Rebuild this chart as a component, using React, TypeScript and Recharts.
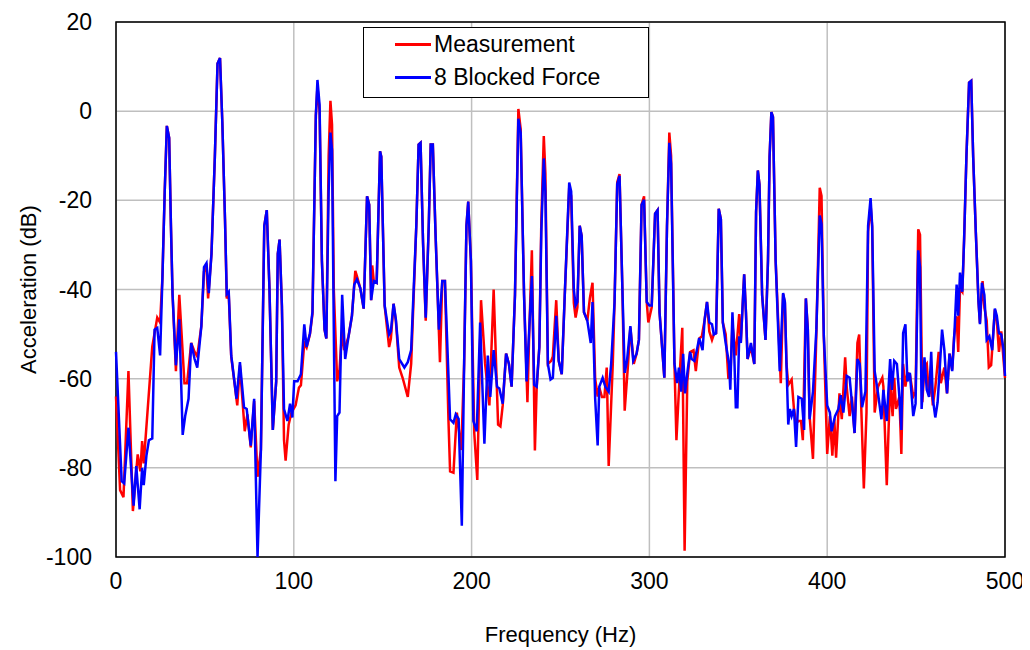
import React from 'react';
import {
  LineChart, Line, XAxis, YAxis, CartesianGrid, Legend, ReferenceArea,
} from 'recharts';

// [frequency Hz, acceleration dB]
const blockedForce: [number, number][] = [
  [0, -54], [3.2, -83], [4.6, -83.5], [7, -71], [9.9, -88.5], [11.4, -79.6], [13.3, -89.3], [14.7, -80],
  [15.6, -83.9], [17.1, -77.3], [18.5, -73.8], [20.4, -73.4], [21.7, -49], [23.2, -48.6], [24.8, -54.8],
  [26.1, -37.4], [27.4, -18], [28.6, -3.3], [29.9, -6], [30.9, -25.7], [31.8, -41], [33.7, -57], [35.6, -46.7],
  [37.5, -72.6], [38.9, -68.4], [40.8, -64.5], [42.3, -52], [44.2, -55.6], [45.7, -57.5], [48, -48.2],
  [49.5, -35], [50.9, -34.1], [52.2, -40.8], [53.7, -32], [55.6, -10.2], [57.1, 10.7], [58.5, 11.9],
  [59.8, -2.5], [61.3, -24.2], [62.3, -41], [63.4, -40.5], [64.8, -54.8], [67.8, -64.5], [69.7, -56.3],
  [72, -66.4], [73.5, -66.8], [75.8, -75], [77.7, -64.5], [79.6, -100], [81.5, -76], [83.4, -25.7],
  [84.8, -22.2], [86.3, -39.7], [88.2, -71.5], [90.1, -60.6], [91, -32], [92, -28.8], [93.3, -43.6],
  [94.5, -66.8], [96.4, -69.5], [97.9, -65.6], [99.2, -68.7], [100.2, -60.6], [102.1, -60.6], [104, -59],
  [105.9, -47.8], [107.2, -52.9], [109.1, -49.8], [110.5, -45], [111.6, -19.5], [112.4, -1], [113.3, 7],
  [114.5, 1.4], [115.8, -33.5], [117.3, -49], [118.3, -51], [119.6, -18], [120.6, -4.8], [121.5, -8.7],
  [122.5, -49], [123.4, -83], [124.4, -68.4], [125.7, -67.6], [127.2, -41.2], [128.9, -55.6], [130.8, -50.5],
  [132.7, -45.9], [134, -38.9], [135.5, -37.7], [137.4, -39.7], [139.3, -44.3], [141.2, -19.1], [142.4, -21],
  [143.5, -42.4], [145, -38.1], [146.6, -38.5], [148.5, -9], [149.2, -10.2], [151.1, -43.6], [153.6, -50.1],
  [154.6, -49.4], [156.1, -43.2], [157.4, -46.7], [159.3, -55.6], [162.2, -57.5], [164.1, -56.3], [166, -53.6],
  [168.9, -25.7], [170.2, -7.5], [171.3, -7.1], [172.7, -29.6], [174.2, -46.3], [175.9, -25.7], [177, -7.5],
  [178.2, -7.5], [179.7, -27.3], [181.6, -49], [183.5, -38.1], [185, -38.1], [186.6, -55.2], [187.9, -69.1],
  [189.8, -69.9], [191.1, -68], [192.7, -69], [194.5, -93], [195.8, -56.7], [197.1, -25.7], [198.1, -20.3],
  [199.6, -33.5], [201, -69.5], [202.9, -71.8], [204.8, -47.4], [207.2, -74.6], [209.1, -54.8], [210.5, -64.1],
  [212.4, -53.6], [214.3, -61.8], [215.6, -62.2], [217.5, -65.6], [219.4, -54.4], [221, -56.7], [222.5, -61.8],
  [224.4, -41.2], [226.3, -1.7], [227.6, -4.8], [229.5, -41.2], [230.9, -60.6], [232.4, -49], [233.9, -37],
  [235.2, -61.4], [236.6, -61.8], [238.1, -52.9], [239.2, -27.3], [240.6, -10.6], [241.5, -18], [242.9, -56.7],
  [244.4, -60.2], [245.7, -59.8], [247.6, -45.9], [249, -56], [250.7, -59], [252.4, -41.2], [254.9, -16],
  [256, -18], [257.5, -40], [258.5, -43.6], [259.5, -42.8], [260.8, -25.7], [261.9, -28], [263.2, -45.1],
  [265.1, -47], [267, -52], [268, -42.8], [269.5, -64.5], [270.9, -75], [271.8, -61.8], [273.7, -59.8],
  [275.2, -61.8], [277.1, -62.9], [278.5, -56.7], [280.4, -42.8], [281.9, -16.4], [283.2, -14.5], [284.8, -39.7],
  [286.1, -58.7], [287.4, -56], [289.3, -48.2], [290.9, -56], [292.8, -54.4], [294.1, -51.3], [295.6, -21],
  [297, -19.9], [298.5, -42.8], [300, -43.6], [301.3, -43.6], [303.2, -23], [304.6, -22.2], [305.7, -45.1],
  [308.4, -59.8], [309.9, -25.7], [311.2, -7.1], [312.2, -11.8], [314.1, -56.7], [315.6, -61], [316.6, -57.5],
  [317.9, -62.9], [319, -54.4], [320, -63.3], [321.7, -57.5], [322.9, -54], [323.8, -55.6], [325.3, -56],
  [326.7, -53.6], [328, -50.9], [329.9, -53.6], [331, -47], [332.4, -42.8], [333.7, -47.4], [335.2, -47.8],
  [336.2, -50.1], [337.5, -49.8], [339, -21.9], [340.2, -24.2], [341.3, -47.4], [342.9, -52], [344.8, -56.7],
  [345.5, -62.5], [346.7, -45.1], [347.6, -52.9], [348.6, -66.4], [349.5, -66.4], [350.5, -50.5], [351.4, -52],
  [353.3, -36.6], [354.3, -45.1], [355.2, -55.6], [357.1, -52], [359, -56.7], [360, -22.6], [361, -13.3],
  [361.9, -16.4], [363.4, -41.2], [365.3, -51.3], [366.7, -33.5], [367.6, -10.2], [368.6, -0.2], [369.5, -1.3],
  [371, -33.5], [373.3, -58.3], [375.2, -40.8], [376.2, -42.8], [377.1, -56.7], [378.1, -70.3], [379, -66.8],
  [380, -68.4], [381.3, -66.8], [382.5, -75.3], [383.8, -64.1], [385.7, -64.5], [387, -71.5], [388, -42],
  [389.1, -49], [390.1, -69.1], [392, -62.9], [393.9, -49], [395.8, -23.4], [396.8, -25.3], [398.1, -50.5],
  [400, -66], [401.5, -67.6], [402.5, -71.8], [404.4, -68.4], [406.3, -66.8], [407.6, -63.7], [409.1, -67.6],
  [411, -59.4], [412.6, -59.8], [413.9, -65.3], [415.4, -72.2], [417, -55.6], [418.3, -56.7], [419.6, -66.4],
  [421.5, -62.9], [423, -25.7], [424.4, -19.5], [425.3, -25.7], [426.7, -58.3], [428.6, -63.3], [430.5, -69.1],
  [431.6, -62.5], [433.5, -69.5], [435.4, -55.6], [436.4, -62.5], [437.7, -56], [439.2, -56.7], [440.6, -64.1],
  [441.7, -71.5], [442.7, -49.8], [444, -47.8], [445.1, -60.6], [446.5, -58.7], [448.4, -68.4], [449.7, -65.6],
  [451.2, -31.2], [452.2, -35], [453.1, -66.8], [454.7, -55.2], [456, -62.5], [457.3, -64.1], [458.5, -54],
  [459.4, -64.5], [460.8, -68.7], [462.1, -65.3], [463.1, -59], [464.6, -49], [465.9, -53.6], [467.4, -63.3],
  [468.8, -54.4], [470.3, -58.3], [471.6, -49.4], [472.8, -38.9], [473.7, -45.9], [474.7, -36.2], [476, -40.5],
  [477, -28.8], [478.3, -10.2], [479.8, 6.4], [481, 6.8], [482.1, -10.2], [483.6, -27.3], [485.1, -42.8],
  [485.9, -47.8], [487, -38.5], [488.4, -41.2], [489.7, -51.3], [491.2, -50.5], [492.8, -53.6], [494.3, -44.3],
  [495.4, -45.9], [496.6, -49.8], [497.9, -50.1], [499.2, -53.6], [500, -59.4],
];

const measurement: [number, number][] = [
  [0, -64], [2.3, -85], [4.2, -86.6], [7, -58.3], [9.5, -89.7], [12.2, -77], [13.7, -80.8], [14.7, -74],
  [15.6, -79], [20.4, -52.8], [23.2, -46.3], [24.8, -47.4], [26.1, -37.4], [27.4, -18], [28.6, -3.3],
  [29.9, -6], [30.9, -25.7], [31.8, -41], [33.7, -58.3], [35.6, -41.2], [38.5, -61], [40, -61], [42.3, -52],
  [44.2, -54], [45.7, -55], [48, -48.2], [49.5, -36], [50.9, -35], [51.8, -42], [53.7, -32], [55.6, -10.2],
  [57.1, 10.7], [58.5, 11.9], [59.8, -2.5], [61.3, -24.2], [62.3, -42], [63.4, -41], [64.8, -55], [68.2, -66],
  [69.7, -57], [72.4, -71.8], [73.9, -68], [75.8, -75.4], [77.7, -65], [79.6, -82], [81.5, -76], [83.4, -25.7],
  [84.8, -22.2], [86.3, -39.7], [88.2, -71.5], [90.1, -60.6], [91, -32], [92, -28.8], [93.3, -43.6],
  [94.5, -73.8], [95.4, -78.4], [97.1, -70.3], [98.7, -67.6], [101, -66], [102.9, -62], [104, -61.5],
  [105.9, -52], [107.2, -53], [109.1, -50], [110.5, -45.5], [111.6, -19.5], [112.4, -1], [113.3, 5.5],
  [114.5, 0], [115.8, -33.5], [117.3, -49], [118.3, -51], [119.6, -10], [120.6, 2.3], [121.5, -3],
  [122.5, -40], [124.4, -60.6], [125.7, -58], [127.2, -49], [128.3, -53.6], [130.8, -50.5], [132.7, -45.9],
  [134.6, -35.8], [135.5, -37], [137.4, -39.7], [139.3, -44.3], [141.2, -19.1], [142.4, -21], [143.5, -42.4],
  [144.1, -34.6], [145, -38.1], [146.6, -38.5], [148.5, -9], [149.2, -10.2], [151.1, -43.6], [153.6, -52.9],
  [154.6, -51], [156.1, -43.2], [157.4, -47], [159.3, -57.5], [161.2, -59.8], [164.1, -64.1], [166, -56.7],
  [168.9, -25.7], [170.2, -7.5], [171.3, -7.1], [172.7, -29.6], [174.2, -47], [175.9, -25.7], [177, -7.5],
  [178.2, -7.5], [179.7, -27.3], [182.2, -56.3], [183.5, -38.1], [185, -38.1], [187, -69.5], [187.9, -80.8],
  [189.8, -81.1], [191.7, -67.6], [194.2, -76], [195.8, -56.7], [197.1, -25.7], [198.1, -20.3], [199.6, -33.5],
  [201.5, -72.2], [203.2, -82.7], [205.3, -42.4], [207.6, -56.7], [210, -66], [212.4, -40], [214.9, -70.3],
  [216.2, -70.7], [217.5, -66], [219.4, -54.4], [221, -56.7], [222.5, -61.8], [224.4, -41.2], [226.3, 0.5],
  [227.6, -4], [229.5, -41.2], [231.4, -65.3], [232.4, -50], [233.9, -31.2], [235.6, -76.1], [236.6, -62],
  [238.1, -52.9], [239.2, -25], [240.6, -5.6], [241.5, -14], [242.9, -56.7], [244.8, -56], [245.7, -55],
  [247.6, -42.4], [249, -56], [250.7, -59], [252.4, -41.2], [254.9, -17.2], [256, -19], [257.5, -43],
  [258.5, -46.3], [259.5, -44], [260.8, -25.7], [261.9, -28], [263.2, -45.1], [265.1, -47], [266.5, -42],
  [268, -38.5], [269.5, -60], [270.9, -64], [271.8, -62], [273.3, -64.1], [274.7, -64.1], [276, -57.5],
  [277.1, -79.6], [279.4, -56.7], [280.4, -42.8], [281.9, -16], [283.2, -14.1], [284.8, -39.7], [286.1, -67.2],
  [288, -56.7], [289.3, -48.5], [291.2, -56.7], [292.8, -54.4], [294.1, -51.3], [295.6, -21], [297, -19.1],
  [298.5, -42.8], [299.4, -47.4], [301.3, -44], [303.2, -23], [304.6, -22.2], [305.7, -45.1], [308.4, -59.8],
  [309.9, -25.7], [311.2, -4.8], [312.2, -10], [314.1, -56.7], [315.2, -73.8], [317, -59.4], [318.5, -48.6],
  [319.8, -98.6], [321.3, -60.6], [322.9, -54], [324.8, -53.6], [326.1, -58.3], [328, -51], [329.5, -50.5],
  [331, -47], [332.4, -42.8], [333.7, -49.4], [335.2, -51.3], [336.2, -50.1], [337.5, -49.8], [339, -21.9],
  [340.2, -24.2], [341.3, -47.4], [342.9, -50], [344.4, -59.8], [345.5, -59.8], [346.7, -48], [348.6, -54.8],
  [350.5, -45.5], [351.4, -52], [353.3, -36.6], [354.3, -45.1], [355.2, -55.6], [357.1, -52.9], [359, -56.7],
  [360, -22.6], [361, -13.3], [361.9, -16.4], [363.4, -41.2], [365.3, -51.3], [366.7, -33.5], [367.6, -10.2],
  [368.6, -0.2], [369.5, -1.3], [371, -33.5], [373.9, -61], [375.2, -41], [376.2, -43], [377.1, -56.7],
  [378.1, -61.4], [380, -60.2], [381.3, -66.8], [382.5, -70], [383.8, -69.5], [385.3, -69.5], [386.3, -73.8],
  [388, -42], [389.1, -49], [390.1, -68.4], [392, -78], [393.9, -50], [395.8, -17.2], [396.8, -19],
  [398.1, -50.5], [400, -76.9], [401.5, -68.4], [402.9, -77.3], [404, -69], [405, -77.7], [406.9, -63.3],
  [408.2, -69.1], [410.1, -55.2], [411, -62], [412.6, -68.4], [413.9, -64], [415.4, -72.2], [417, -52],
  [418, -50.1], [419, -64.5], [420.6, -84.6], [422.1, -67.6], [423, -27], [424.4, -21], [425.3, -26],
  [426.7, -67.6], [428.6, -61.8], [431, -59.8], [431.6, -61.8], [433.5, -83.9], [435.4, -60.6], [436.8, -68.4],
  [437.7, -59.8], [438.7, -66.8], [440.6, -64.1], [441.7, -76.9], [442.7, -56.7], [444, -61.8], [445.1, -58.7],
  [446.5, -59], [448.4, -64], [449.7, -63], [451.2, -26.5], [452.2, -27.7], [453.5, -65.3], [454.7, -57.5],
  [456, -56.7], [457.3, -64], [458.5, -60], [459.4, -66], [460.8, -62], [462.7, -54], [463.9, -61],
  [465.9, -57.5], [467.4, -63.3], [468.8, -54.4], [470.3, -58], [471.4, -50.5], [472.8, -46], [473.7, -54],
  [474.7, -39.7], [476, -40.5], [477, -28.8], [478.3, -10.2], [479.8, 6.4], [481, 6.8], [482.1, -10.2],
  [483.6, -27.3], [485.1, -42.8], [485.9, -47.5], [487.4, -38.1], [488.4, -44], [489.7, -47], [490.9, -57.5],
  [492.2, -57], [494.3, -44.5], [495.4, -47], [496.6, -54], [497.9, -49.4], [500, -59.8],
];

const freqTicks = [0, 100, 200, 300, 400, 500];
const dbTicks = [-100, -80, -60, -40, -20, 0, 20];

const seriesNames = ['Measurement', '8 Blocked Force'];
const seriesColors = ['#ff0000', '#0000ff'];

const measData = measurement.map(([f, db]) => ({ f, db }));
const blockedData = blockedForce.map(([f, db]) => ({ f, db }));

const FONT = '"Liberation Sans", Arial, sans-serif';

const renderLegend = () => (
  <div style={{
    width: 286,
    height: 71,
    boxSizing: 'border-box',
    border: '1.5px solid #000',
    background: '#fff',
    fontFamily: FONT,
    fontSize: 23,
    color: '#000',
    paddingTop: 0,
  }}>
    {seriesNames.map((name, i) => (
      <div key={name} style={{ display: 'flex', alignItems: 'center', height: 33 }}>
        <div style={{ marginLeft: 31, width: 36, height: 2.5, background: seriesColors[i] }} />
        <span style={{ marginLeft: 3 }}>{name}</span>
      </div>
    ))}
  </div>
);

export default function App() {
  return (
    <div style={{ fontFamily: FONT }}>
      <LineChart width={1022} height={642} margin={{ top: 14, right: 25, left: 0, bottom: 8 }}>
        <CartesianGrid stroke="#bfbfbf" strokeWidth={1.5} />
        <XAxis
          type="number"
          dataKey="f"
          domain={[0, 500]}
          ticks={freqTicks}
          allowDuplicatedCategory={false}
          height={85}
          tickLine={false}
          axisLine={false}
          tickSize={8}
          tickMargin={8}
          tick={{ fill: '#000', fontSize: 23, fontFamily: FONT }}
          label={{ value: 'Frequency (Hz)', position: 'insideBottom', offset: 0, fill: '#000', fontSize: 22, fontFamily: FONT }}
        />
        <YAxis
          type="number"
          domain={[-100, 20]}
          ticks={dbTicks}
          allowDataOverflow
          width={108}
          tickLine={false}
          axisLine={false}
          tickSize={12}
          tickMargin={12}
          tick={{ fill: '#000', fontSize: 23, fontFamily: FONT }}
          label={{ value: 'Acceleration (dB)', angle: -90, position: 'insideLeft', offset: 20, fill: '#000', fontSize: 22, fontFamily: FONT, style: { textAnchor: 'middle' } }}
        />
        <ReferenceArea x1={0} x2={500} y1={-100} y2={20} fill="none" stroke="#000" strokeWidth={1.5} ifOverflow="visible" />
        <Line
          data={measData}
          dataKey="db"
          name={seriesNames[0]}
          type="linear"
          stroke={seriesColors[0]}
          strokeWidth={2.5}
          dot={false}
          isAnimationActive={false}
        />
        <Line
          data={blockedData}
          dataKey="db"
          name={seriesNames[1]}
          type="linear"
          stroke={seriesColors[1]}
          strokeWidth={2.5}
          dot={false}
          isAnimationActive={false}
        />
        <Legend
          layout="horizontal"
          verticalAlign="middle"
          align="center"
          content={renderLegend}
          wrapperStyle={{ position: 'absolute', left: 355, top: 19, width: 286 }}
        />
      </LineChart>
    </div>
  );
}
